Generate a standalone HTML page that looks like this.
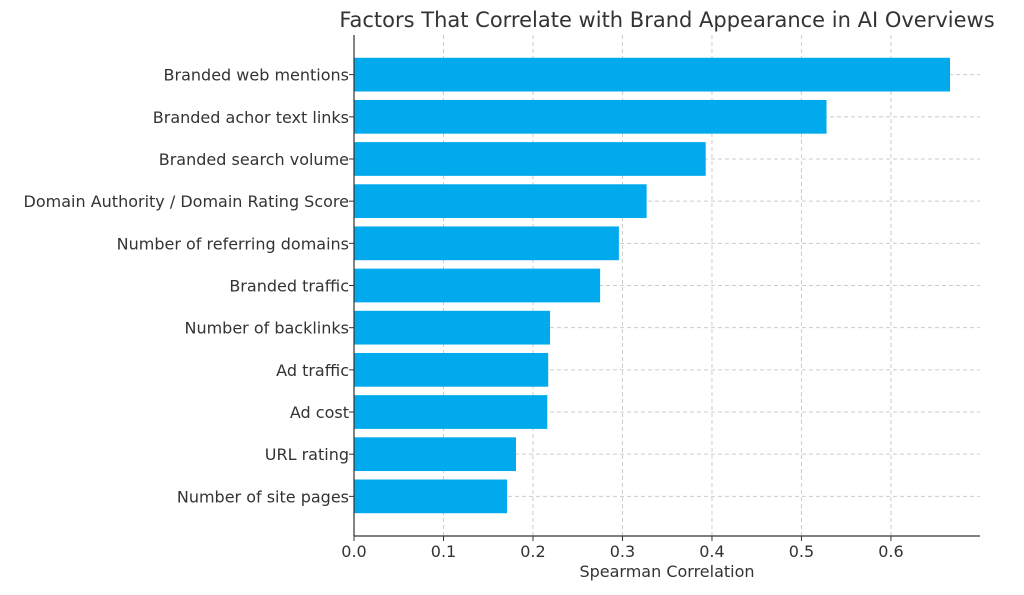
<!DOCTYPE html>
<html><head><meta charset="utf-8"><style>
body{margin:0;background:#fff;font-family:"Liberation Sans","DejaVu Sans",sans-serif;}
svg text{font-family:"DejaVu Sans","Liberation Sans",sans-serif;fill:#333;}
</style></head><body>
<svg id="chart" width="1024" height="590" xmlns="http://www.w3.org/2000/svg">
<text x="667" y="27" font-size="21" text-anchor="middle">Factors That Correlate with Brand Appearance in AI Overviews</text>
<g id="grid"></g><g id="bars"></g><g id="axes"></g>
<text x="667" y="577" font-size="16" text-anchor="middle">Spearman Correlation</text>
</svg>
<script>
const categories=["Branded web mentions","Branded achor text links","Branded search volume","Domain Authority / Domain Rating Score","Number of referring domains","Branded traffic","Number of backlinks","Ad traffic","Ad cost","URL rating","Number of site pages"];
const values=[0.666,0.528,0.393,0.327,0.296,0.275,0.219,0.217,0.216,0.181,0.171];
const xTicks=[0.0,0.1,0.2,0.3,0.4,0.5,0.6];
const L=354,R=980,T=35,B=536,XMAX=0.6995;
const xs=v=>L+v/XMAX*(R-L);
const n=categories.length,span=(n-1)+0.8+(n-0.2)*0.1;
const step=(B-T)/span;
const ys=i=>T+(0.4+(n-0.2)*0.05+i)*step;
const NS="http://www.w3.org/2000/svg";
function mk(t,a,p){const e=document.createElementNS(NS,t);for(const k in a)e.setAttribute(k,a[k]);p.appendChild(e);return e;}
const g=document.getElementById('grid'),b=document.getElementById('bars'),ax=document.getElementById('axes');
xTicks.forEach(v=>{
 const l=mk('line',{x1:xs(v),x2:xs(v),y1:T,y2:B,stroke:'#ccc','stroke-dasharray':'4,3','stroke-width':1},g);
 
 
 const tk=mk('line',{x1:xs(v),x2:xs(v),y1:B,y2:B+5,stroke:'#333'},ax);
 
 
 const t=mk('text',{x:xs(v),y:B+21,'font-size':16,'text-anchor':'middle'},ax);t.textContent=v.toFixed(1);
 
 
});
categories.forEach((c,i)=>{
 const y=ys(i);
 const gl=mk('line',{x1:L,x2:R,y1:y,y2:y,stroke:'#ccc','stroke-dasharray':'4,3'},g);
 
 
 const r=mk('rect',{x:L,y:y-0.4*step,width:xs(values[i])-L,height:0.8*step,fill:'#00aaec'},b);
 
 
 const tk=mk('line',{x1:L-5,x2:L,y1:y,y2:y,stroke:'#333'},ax);
 
 
 const t=mk('text',{x:L-5,y:y+6,'font-size':16,'text-anchor':'end'},ax);t.textContent=c;
 
 
});
const s1=mk('line',{x1:L,x2:L,y1:T,y2:B,stroke:'#333','stroke-width':1.2},ax);


const s2=mk('line',{x1:L,x2:R,y1:B,y2:B,stroke:'#333','stroke-width':1.2},ax);


</script>
</body></html>
